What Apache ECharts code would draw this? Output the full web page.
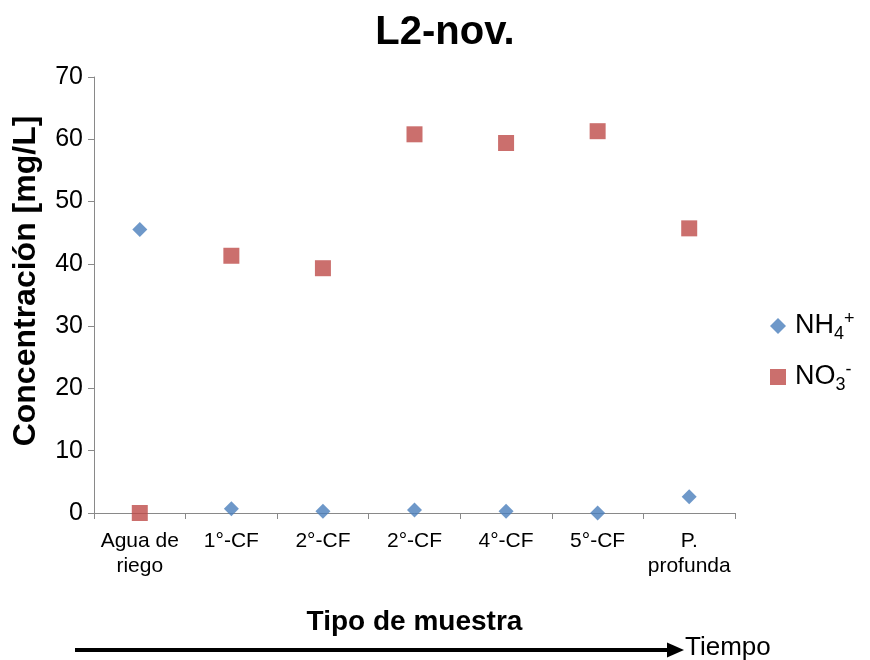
<!DOCTYPE html>
<html>
<head>
<meta charset="utf-8">
<script src="https://cdn.jsdelivr.net/npm/echarts@6/dist/echarts.min.js"></script>
<style>
  html, body { margin: 0; padding: 0; background: #fff; }
  #chart { width: 870px; height: 660px; }
</style>
</head>
<body>
<div id="chart"></div>
<script>
// Sample types (ordered in time) and measured concentrations in mg/L
const categories = ['Agua de\nriego', '1°-CF', '2°-CF', '2°-CF', '4°-CF', '5°-CF', 'P.\nprofunda'];
const nh4Values = [45.5, 0.7, 0.3, 0.5, 0.3, 0.0, 2.6];
const no3Values = [0.0, 41.3, 39.3, 60.8, 59.4, 61.3, 45.7];
const yTicks = { min: 0, max: 70, interval: 10 };

const FONT = '"Liberation Sans", Arial, sans-serif';
const axisGray = '#898989';

const chart = echarts.init(document.getElementById('chart'));
chart.setOption({
  animation: false,
  backgroundColor: '#ffffff',
  textStyle: { fontFamily: FONT },
  title: {
    text: 'L2-nov.',
    left: 440,
    top: 8,
    textAlign: 'center',
    textStyle: { fontFamily: FONT, fontSize: 40, fontWeight: 'bold', color: '#000' }
  },
  grid: { left: 94, right: 135, top: 77, bottom: 147, containLabel: false },
  legend: {
    orient: 'vertical',
    left: 765,
    top: 305,
    itemGap: 18,
    itemWidth: 16,
    itemHeight: 16,
    data: [
      { name: 'NH4+', icon: 'diamond' },
      { name: 'NO3-', icon: 'rect' }
    ],
    formatter: function (name) {
      if (name === 'NH4+') return '{n|NH}{sub|4}{sup|+}';
      return '{n|NO}{sub|3}{sup|-}';
    },
    textStyle: {
      fontFamily: FONT,
      color: '#000',
      padding: [0, 0, 0, 4],
      rich: {
        n: { fontSize: 27, fontFamily: FONT, color: '#000' },
        sub: { fontSize: 18, fontFamily: FONT, color: '#000', padding: [16, 0, 0, 0] },
        sup: { fontSize: 18, fontFamily: FONT, color: '#000', padding: [0, 0, 14, 0] }
      }
    }
  },
  xAxis: {
    type: 'category',
    data: categories,
    boundaryGap: true,
    name: 'Tipo de muestra',
    nameLocation: 'middle',
    nameGap: 95,
    nameTextStyle: { fontFamily: FONT, fontSize: 28, fontWeight: 'bold', color: '#000' },
    axisLine: { lineStyle: { color: axisGray, width: 1 } },
    axisTick: { show: true, alignWithLabel: false, length: 6, lineStyle: { color: axisGray } },
    axisLabel: { fontFamily: FONT, fontSize: 21, color: '#000', margin: 16, lineHeight: 25, interval: 0 }
  },
  yAxis: {
    type: 'value',
    min: yTicks.min,
    max: yTicks.max,
    interval: yTicks.interval,
    name: 'Concentración [mg/L]',
    nameLocation: 'middle',
    nameRotate: 90,
    nameGap: 52,
    nameTextStyle: { fontFamily: FONT, fontSize: 32, fontWeight: 'bold', color: '#000', padding: [0, 0, 0, 28] },
    axisLine: { show: true, lineStyle: { color: axisGray, width: 1 } },
    axisTick: { show: true, length: 6, lineStyle: { color: axisGray } },
    splitLine: { show: false },
    axisLabel: { fontFamily: FONT, fontSize: 25, color: '#000', margin: 11 }
  },
  series: [
    {
      name: 'NH4+',
      type: 'scatter',
      symbol: 'diamond',
      symbolSize: 15,
      itemStyle: { color: '#4a7ebb' },
      data: nh4Values,
      z: 3
    },
    {
      name: 'NO3-',
      type: 'scatter',
      symbol: 'rect',
      symbolSize: 16,
      itemStyle: { color: '#be4b48' },
      data: no3Values,
      z: 2
    }
  ],
  graphic: [
    {
      type: 'line',
      shape: { x1: 75, y1: 650, x2: 670, y2: 650 },
      style: { stroke: '#000', lineWidth: 4 }
    },
    {
      type: 'polygon',
      shape: { points: [[667, 642.5], [684, 650], [667, 657.5]] },
      style: { fill: '#000' }
    },
    {
      type: 'text',
      x: 685,
      y: 648,
      style: {
        text: 'Tiempo',
        font: '26px ' + FONT,
        fill: '#000',
        textVerticalAlign: 'middle',
        verticalAlign: 'middle'
      }
    }
  ]
});
</script>
</body>
</html>
